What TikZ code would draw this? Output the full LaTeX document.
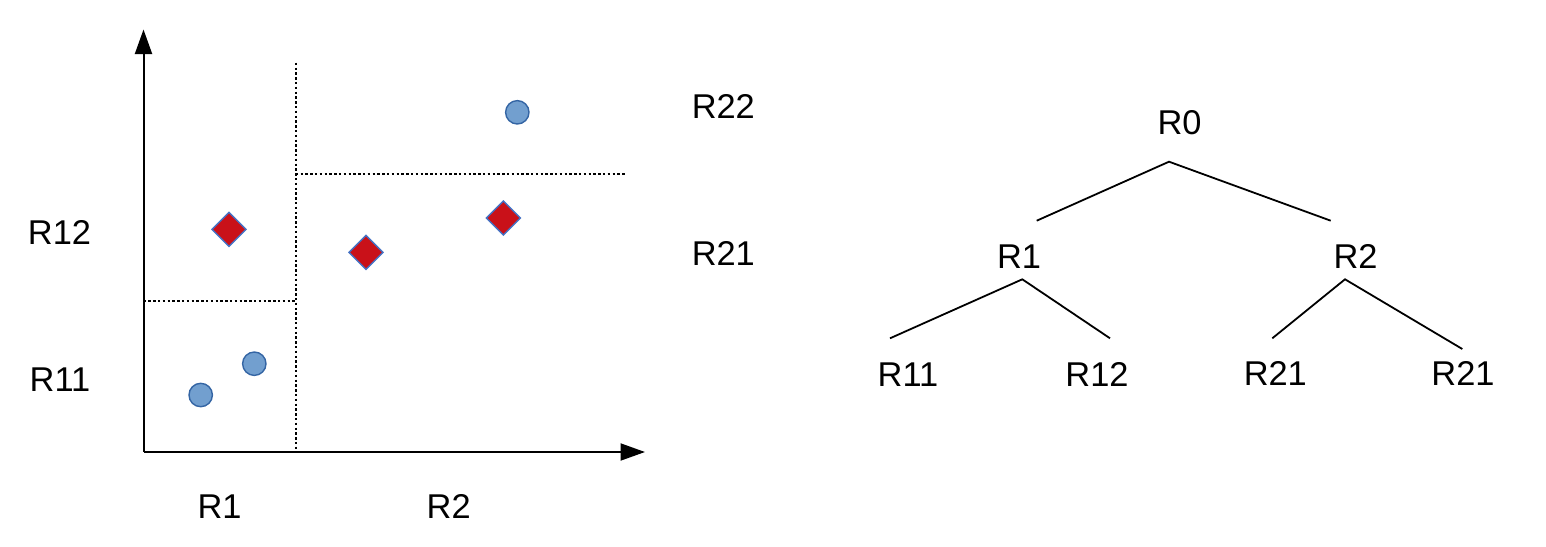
\documentclass[tikz,border=0pt]{standalone}
\usepackage{fontspec}
\setmainfont{Liberation Sans}
\usetikzlibrary{arrows.meta,shapes.geometric}
\definecolor{ptfill}{RGB}{114,159,207}
\definecolor{ptedge}{RGB}{52,101,164}
\definecolor{dmfill}{RGB}{201,17,25}
\definecolor{dmedge}{RGB}{68,114,196}
\tikzset{
  lbl/.style={inner sep=0pt, anchor=base, font=\fontsize{17.2pt}{20pt}\selectfont},
  axis/.style={line width=1pt, -{Triangle[length=12.25pt,width=8.5pt]}},
  split/.style={line width=1.15pt, dash pattern=on 1.2pt off 1.2pt},
  pt/.style={circle, draw=ptedge, fill=ptfill, line width=0.7pt, minimum size=11.7pt, inner sep=0pt},
  dm/.style={diamond, aspect=1, draw=dmedge, fill=dmfill, line width=0.7pt, minimum size=17.3pt, inner sep=0pt},
  edge/.style={line width=0.9pt}
}
\begin{document}
\begin{tikzpicture}[x=0.5pt,y=-0.5pt]
\useasboundingbox (0,0) rectangle (1546,546);
% axes
\coordinate (O) at (143.5,452);
\coordinate (Ytop) at (143.5,29.5);
\coordinate (Xend) at (645,452);
\draw[axis] (O) -- (Ytop);
\draw[axis] (O) -- (Xend);
% split lines
\coordinate (v1) at (295.7,62.7);
\coordinate (v2) at (295.7,452);
\coordinate (h1) at (295.7,174.3);
\coordinate (h2) at (625,174.3);
\coordinate (g1) at (143.5,300.7);
\coordinate (g2) at (295.7,300.7);
\draw[split] (v1) -- (v2);
\draw[split] (h1) -- (h2);
\draw[split] (g1) -- (g2);
% points
\node[pt] (c1) at (517.3,112.3) {};
\node[pt] (c2) at (254.3,363.7) {};
\node[pt] (c3) at (200.7,395) {};
\node[dm] (d1) at (229,229.3) {};
\node[dm] (d2) at (366,252.3) {};
\node[dm] (d3) at (503.3,218) {};
% region labels
\node[lbl] (lR22) at (723.3,118.3) {R22};
\node[lbl] (lR21) at (723.3,265.7) {R21};
\node[lbl] (lR12) at (59.5,244.3) {R12};
\node[lbl] (lR11) at (60,391.7) {R11};
\node[lbl] (lR1) at (219.5,518) {R1};
\node[lbl] (lR2) at (448.7,518.3) {R2};
% tree
\node[lbl] (t0) at (1179.5,134.3) {R0};
\node[lbl] (t1) at (1019,268.3) {R1};
\node[lbl] (t2) at (1355.5,268.3) {R2};
\node[lbl] (t11) at (908,386) {R11};
\node[lbl] (t12) at (1097,386) {R12};
\node[lbl] (t21) at (1275.3,385) {R21};
\node[lbl] (t22) at (1463,385) {R21};
\coordinate (a0) at (1169,161.7);
\coordinate (e01) at (1036.7,220.7);
\coordinate (e02) at (1330.7,220.7);
\coordinate (a1) at (1022.3,279.3);
\coordinate (e11) at (890,338.3);
\coordinate (e12) at (1110,338.3);
\coordinate (a2) at (1345,279.3);
\coordinate (e21) at (1272.3,338.3);
\coordinate (e22) at (1462.3,349);
\draw[edge] (e01) -- (a0) -- (e02);
\draw[edge] (e11) -- (a1) -- (e12);
\draw[edge] (e21) -- (a2) -- (e22);
\end{tikzpicture}
\end{document}
